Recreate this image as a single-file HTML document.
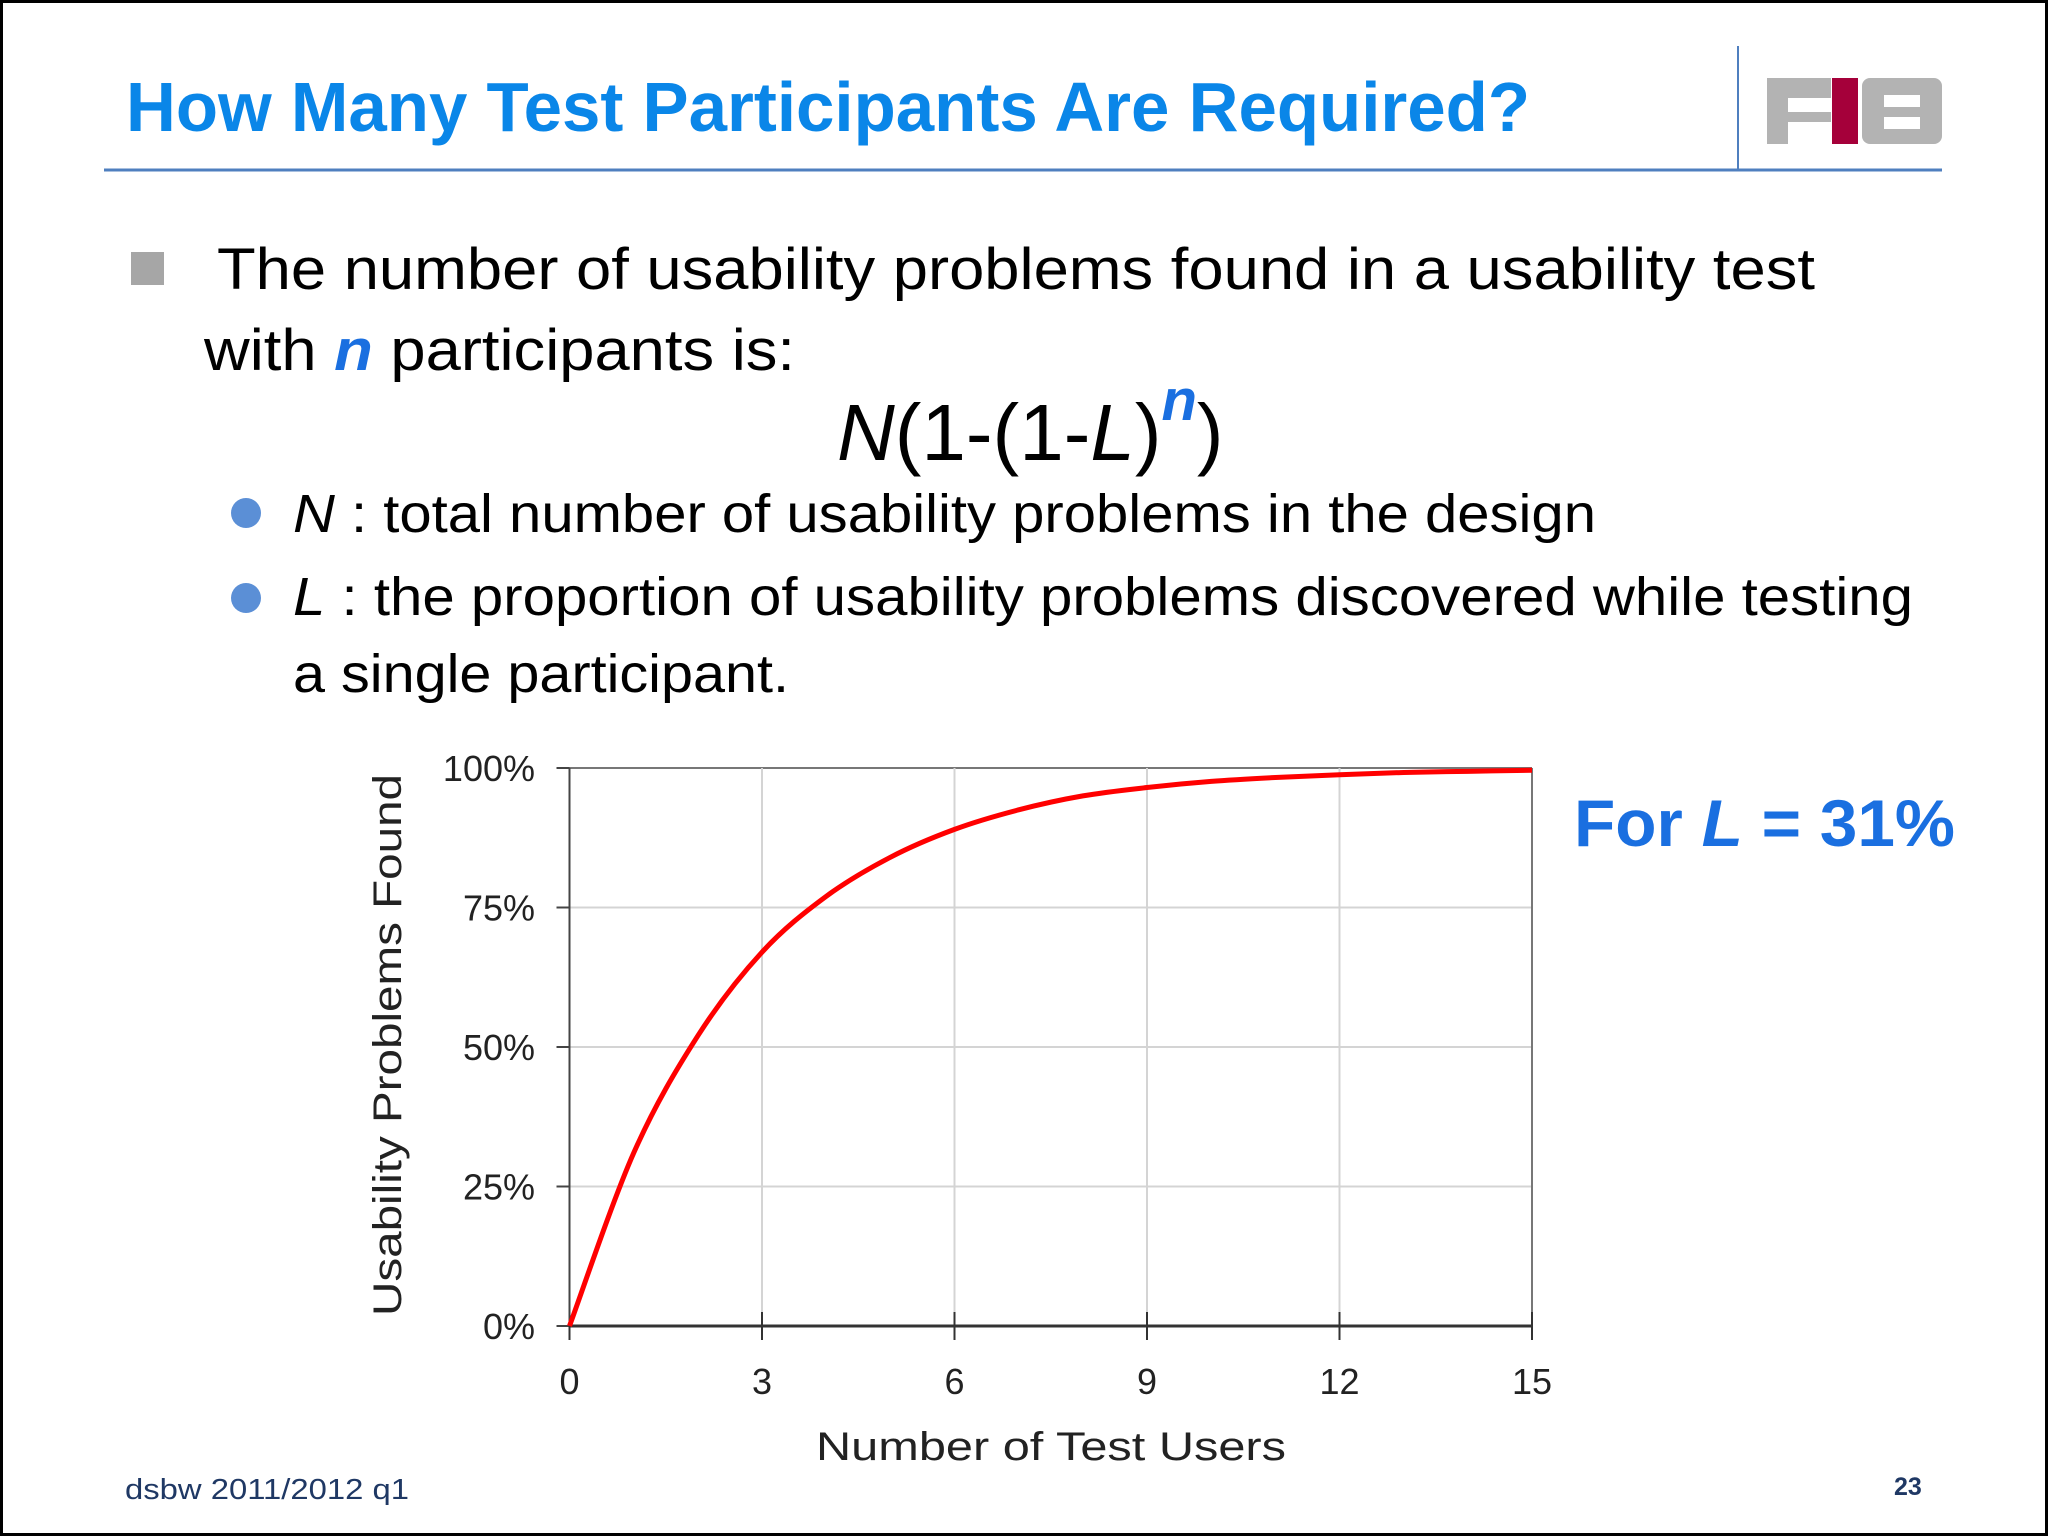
<!DOCTYPE html>
<html><head><meta charset="utf-8"><style>
html,body{margin:0;padding:0;background:#fff}
svg{display:block}
text{font-family:"Liberation Sans",sans-serif}
</style></head><body>
<svg id="slide" width="2048" height="1536" viewBox="0 0 2048 1536">
<rect x="1.5" y="1.5" width="2045" height="1533" fill="#fff" stroke="#000" stroke-width="3"/>
<text x="126" y="131" font-size="70" font-weight="bold" fill="#0a86e8" textLength="1404" lengthAdjust="spacingAndGlyphs">How Many Test Participants Are Required?</text>
<line x1="104" y1="170" x2="1942" y2="170" stroke="#4f7fbf" stroke-width="3"/>
<line x1="1738" y1="46" x2="1738" y2="170" stroke="#4f7fbf" stroke-width="2"/>
<g>
<rect x="1767" y="78" width="64" height="66" fill="#b3b3b3"/>
<rect x="1788" y="98" width="43" height="14" fill="#fff"/>
<rect x="1788" y="122" width="43" height="22" fill="#fff"/>
<rect x="1832" y="78" width="26" height="66" fill="#a5003a"/>
<rect x="1862" y="78" width="80" height="66" rx="8" fill="#b3b3b3"/>
<rect x="1884" y="95" width="36" height="12" fill="#fff"/>
<rect x="1884" y="117" width="36" height="12" fill="#fff"/>
</g>
<rect x="131" y="252" width="33" height="33" fill="#a6a6a6"/>
<text x="217" y="289" font-size="58" fill="#000" textLength="1598" lengthAdjust="spacingAndGlyphs">The number of usability problems found in a usability test</text>
<text x="204" y="370" font-size="58" fill="#000" textLength="591" lengthAdjust="spacingAndGlyphs">with <tspan font-weight="bold" font-style="italic" fill="#1a6fe0">n</tspan> participants is:</text>
<text x="837" y="460" font-size="80" fill="#000"><tspan font-style="italic">N</tspan>(1-(1-<tspan font-style="italic">L</tspan>)<tspan dy="-40" font-size="58" font-weight="bold" font-style="italic" fill="#1a6fe0">n</tspan><tspan dy="40">)</tspan></text>
<circle cx="246" cy="513" r="15" fill="#5b8fd6"/>
<text x="293" y="532" font-size="54" fill="#000" textLength="1303" lengthAdjust="spacingAndGlyphs"><tspan font-style="italic">N</tspan> : total number of usability problems in the design</text>
<circle cx="246" cy="598" r="15" fill="#5b8fd6"/>
<text x="293" y="615" font-size="54" fill="#000" textLength="1620" lengthAdjust="spacingAndGlyphs"><tspan font-style="italic">L</tspan> : the proportion of usability problems discovered while testing</text>
<text x="293" y="692" font-size="54" fill="#000" textLength="496" lengthAdjust="spacingAndGlyphs">a single participant.</text>
<text x="1574" y="846" font-size="66" font-weight="bold" fill="#1a6fe0" textLength="381" lengthAdjust="spacingAndGlyphs">For <tspan font-style="italic">L</tspan> = 31%</text>
<g id="chart"></g>
<text x="125" y="1499" font-size="29" fill="#1f3864" textLength="284" lengthAdjust="spacingAndGlyphs">dsbw  2011/2012 q1</text>
<text x="1894" y="1495" font-size="25" font-weight="bold" fill="#1f3864">23</text>
</svg>
<script>
const users = [0,1,2,3,4,5,6,7,8,9,10,11,12,13,14,15];
const found = [0,31,52,67,77,84,89,92.5,95,96.5,97.6,98.3,98.8,99.2,99.4,99.6];
const xTicks = [0,3,6,9,12,15];
const yTicks = [0,25,50,75,100];
const L=569.5,R=1532,T=768,B=1326;
const xs=v=>L+(v-0)/(15-0)*(R-L);
const ys=v=>B-(v/100)*(B-T);
const NS='http://www.w3.org/2000/svg';
const g=document.getElementById('chart');
function mk(tag,attrs,parent){const e=document.createElementNS(NS,tag);for(const k in attrs)e.setAttribute(k,attrs[k]);(parent||g).appendChild(e);return e;}
yTicks.forEach(t=>{
  const l=mk('line',{x1:L,x2:R,y1:ys(t),y2:ys(t),stroke:t===0?'#333':(t===100?'#777':'#d4d4d4'),'stroke-width':t===0?3:2});
  
  
  const tk=mk('line',{x1:L-13,x2:L,y1:ys(t),y2:ys(t),stroke:'#444','stroke-width':2});
  
  
  const tx=mk('text',{x:535,y:ys(t)+13,'font-size':36,fill:'#222','text-anchor':'end','font-family':'DejaVu Sans, sans-serif'});
  tx.textContent=t+'%';
  
  
});
xTicks.forEach(t=>{
  if(t>0){const l=mk('line',{x1:xs(t),x2:xs(t),y1:T,y2:B,stroke:t===15?'#777':'#d4d4d4','stroke-width':2});
  
  }
  const tk=mk('line',{x1:xs(t),x2:xs(t),y1:B-14,y2:B+14,stroke:'#333','stroke-width':2});
  
  
  const tx=mk('text',{x:xs(t),y:1394,'font-size':36,fill:'#222','text-anchor':'middle','font-family':'DejaVu Sans, sans-serif'});
  tx.textContent=t;
  
  
});
const ax=mk('line',{x1:L,x2:L,y1:T,y2:B,stroke:'#444','stroke-width':2});


const pts=users.map((u,i)=>[xs(u),ys(found[i])]);
let d='M'+pts[0][0]+','+pts[0][1];
for(let i=0;i<pts.length-1;i++){
  const p0=pts[Math.max(0,i-1)],p1=pts[i],p2=pts[i+1],p3=pts[Math.min(pts.length-1,i+2)];
  const c1=[p1[0]+(p2[0]-p0[0])/6,p1[1]+(p2[1]-p0[1])/6];
  const c2=[p2[0]-(p3[0]-p1[0])/6,p2[1]-(p3[1]-p1[1])/6];
  d+=' C'+c1[0]+','+c1[1]+' '+c2[0]+','+c2[1]+' '+p2[0]+','+p2[1];
}
const line=mk('path',{d:d,fill:'none',stroke:'#ff0000','stroke-width':5});


const xt=mk('text',{x:1051,y:1460,'font-size':40,fill:'#222','text-anchor':'middle','font-family':'DejaVu Sans, sans-serif',textLength:470,lengthAdjust:'spacingAndGlyphs'});
xt.textContent='Number of Test Users';


const yt=mk('text',{x:0,y:0,'font-size':40,fill:'#222','text-anchor':'middle','font-family':'DejaVu Sans, sans-serif',textLength:542,lengthAdjust:'spacingAndGlyphs',transform:'translate(401,1045) rotate(-90)'});
yt.textContent='Usability Problems Found';


</script>
</body></html>
